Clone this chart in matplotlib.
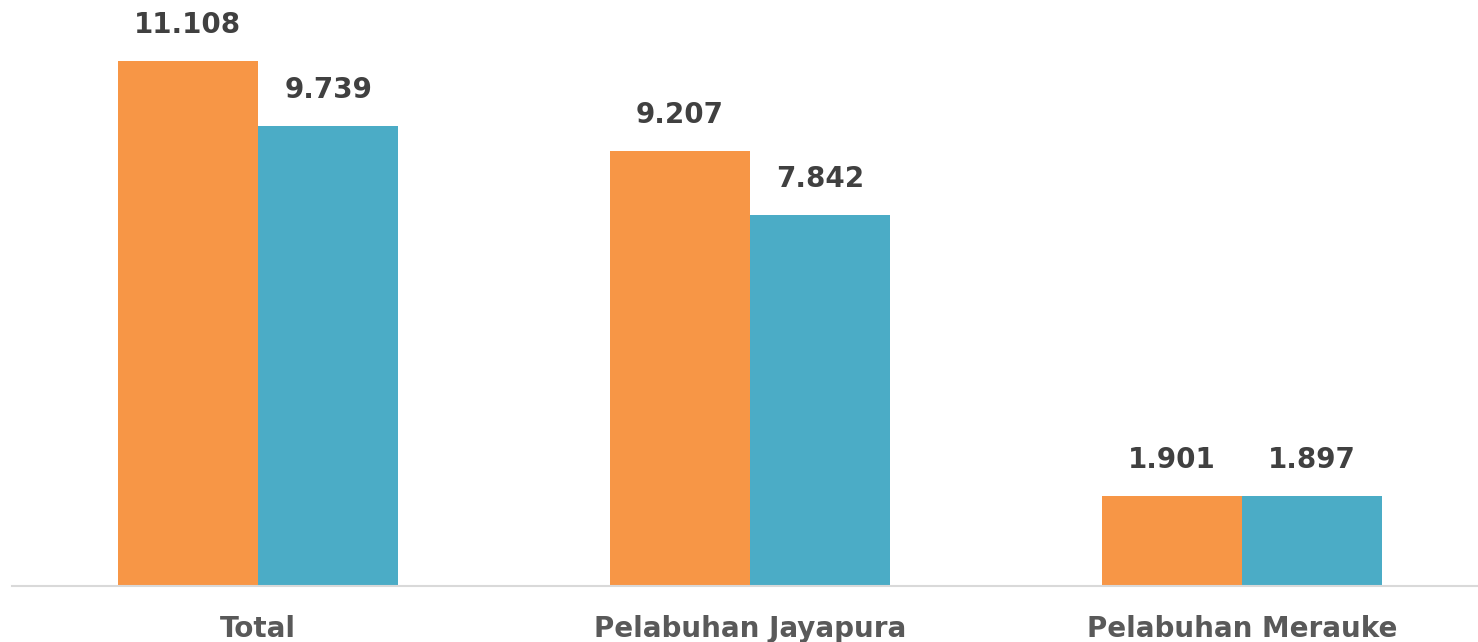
import matplotlib
matplotlib.use("Agg")
import matplotlib.pyplot as plt
import numpy as np

categories = ["Total", "Pelabuhan Jayapura", "Pelabuhan Merauke"]
series_a = [11.108, 9.207, 1.901]
series_b = [9.739, 7.842, 1.897]
labels_a = ["11.108", "9.207", "1.901"]
labels_b = ["9.739", "7.842", "1.897"]

W, H = 1478, 642
fig = plt.figure(figsize=(W / 100, H / 100), dpi=100)
ax = fig.add_axes([12 / W, (H - 586) / H, 1476 / W, 586 / H])

x = np.arange(len(categories))
bw = 0.285
ba = ax.bar(x - bw / 2, series_a, bw, color="#F79646")
bb = ax.bar(x + bw / 2, series_b, bw, color="#4BACC6")

for bars, labs in ((ba, labels_a), (bb, labels_b)):
    for r, t in zip(bars, labs):
        ax.annotate(t, (r.get_x() + r.get_width() / 2, r.get_height()),
                    xytext=(0, 16), textcoords="offset points",
                    ha="center", va="bottom", fontsize=20,
                    fontweight="bold", color="#404040")

ax.set_xlim(-0.5, 2.5)
ax.set_ylim(0, 12.4)
ax.set_xticks(x)
ax.set_xticklabels(categories, fontsize=20, fontweight="bold", color="#595959")
ax.tick_params(axis="x", length=0, pad=21)
ax.set_yticks([])
for s in ("top", "right", "left"):
    ax.spines[s].set_visible(False)
ax.spines["bottom"].set_color("#D9D9D9")
ax.spines["bottom"].set_linewidth(1.5)

fig.savefig("out.png", dpi=100)
